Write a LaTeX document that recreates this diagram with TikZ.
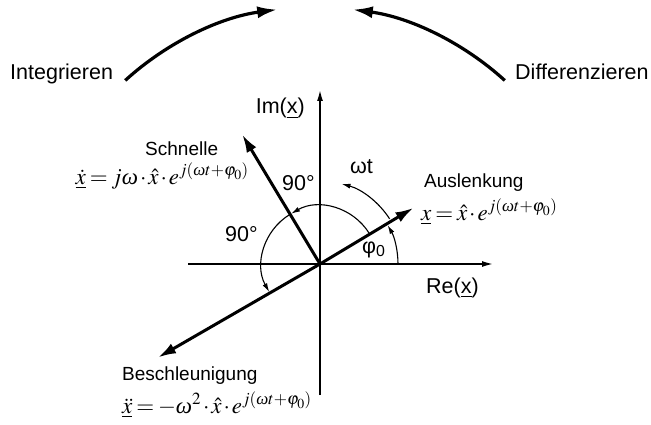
\documentclass[tikz,border=0pt]{standalone}
\usepackage{mathptmx}
\usepackage{amsmath}
\usepackage{fontspec}
\setmainfont{Liberation Sans}
\newfontfamily\serifgr{Liberation Serif}
\usetikzlibrary{arrows.meta}
\newcommand{\tightmath}{\thickmuskip=3mu\relax\medmuskip=1.5mu\relax}
\newcommand{\om}{\text{\serifgr\itshape ω}}
\begin{document}
\begin{tikzpicture}[x=1pt,y=1pt,
  lbl/.style={inner sep=0pt,font=\fontsize{21.5}{24}\selectfont},
  vlbl/.style={inner sep=0pt,font=\fontsize{19}{22}\selectfont},
  mth/.style={inner sep=0pt,font=\fontsize{23}{26}\selectfont\tightmath},
  axis/.style={line width=1.4pt,-{Latex[length=11pt,width=6pt]}},
  vec/.style={line width=3pt,-{Latex[length=18pt,width=11pt]}},
  arcline/.style={line width=1.1pt,-{Latex[length=9pt,width=5pt]}},
  bigarc/.style={line width=3.2pt,-{Latex[length=20pt,width=12pt]}}]
\useasboundingbox (0,0) rectangle (651,424);
\coordinate (O) at (320,160);
\coordinate (XL) at (188,160);
\coordinate (XR) at (493,160);
\coordinate (YB) at (320,29);
\coordinate (YT) at (320,334);
\coordinate (A) at ([shift={(31:109pt)}]O);
\coordinate (S) at ([shift={(121:151pt)}]O);
\coordinate (B) at ([shift={(210:187pt)}]O);
\coordinate (C) at (315,135);
% axes
\draw[axis] (XL) -- (XR);
\draw[axis] (YB) -- (YT);
% vectors
\draw[vec] (O) -- (A);
\draw[vec] (O) -- (S);
\draw[vec] (O) -- (B);
% angle arcs
\draw[arcline] ([shift={(0:78pt)}]O) arc[start angle=0,end angle=30,radius=78pt];
\draw[arcline] ([shift={(33:83pt)}]O) arc[start angle=33,end angle=75,radius=83pt];
\draw[arcline] ([shift={(32:58pt)}]O) arc[start angle=32,end angle=120,radius=58pt];
\draw[arcline] ([shift={(121:58pt)}]O) arc[start angle=121,end angle=209,radius=58pt];
% big arcs
\draw[bigarc] ([shift={(132.3:282pt)}]C) arc[start angle=132.3,end angle=97.7,radius=282pt];
\draw[bigarc] ([shift={(47.7:282pt)}]C) arc[start angle=47.7,end angle=82.3,radius=282pt];
% labels
\node[lbl,anchor=base west] (int) at (10,344) {Integrieren};
\node[lbl,anchor=base west] (dif) at (515,344) {Differenzieren};
\node[lbl,anchor=base east] (im) at (305,310) {Im(\underline{x})};
\node[lbl,anchor=base west] (re) at (426,131) {Re(\underline{x})};
\node[lbl,anchor=base west] (n1) at (282,234) {90°};
\node[lbl,anchor=base west] (n2) at (225,183) {90°};
\node[lbl,anchor=base west] (wt) at (350,251) {ωt};
\node[lbl,anchor=base west] (ph) at (362,171) {φ\textsubscript{0}};
\node[vlbl,anchor=base west] (sch) at (145,269) {Schnelle};
\node[mth,anchor=base east] (schf) at (249,240) {$\underline{\dot{x}}=j\om\cdot\hat{x}\cdot e^{j\left(\om t+\varphi_0\right)}$};
\node[vlbl,anchor=base west] (aus) at (424,237) {Auslenkung};
\node[mth,anchor=base west] (ausf) at (421,204) {$\underline{x}=\hat{x}\cdot e^{j\left(\om t+\varphi_0\right)}$};
\node[vlbl,anchor=base west] (bes) at (122,44) {Beschleunigung};
\node[mth,anchor=base west] (besf) at (122,11) {$\underline{\ddot{x}}=-\om^2\cdot\hat{x}\cdot e^{j\left(\om t+\varphi_0\right)}$};
\end{tikzpicture}
\end{document}
